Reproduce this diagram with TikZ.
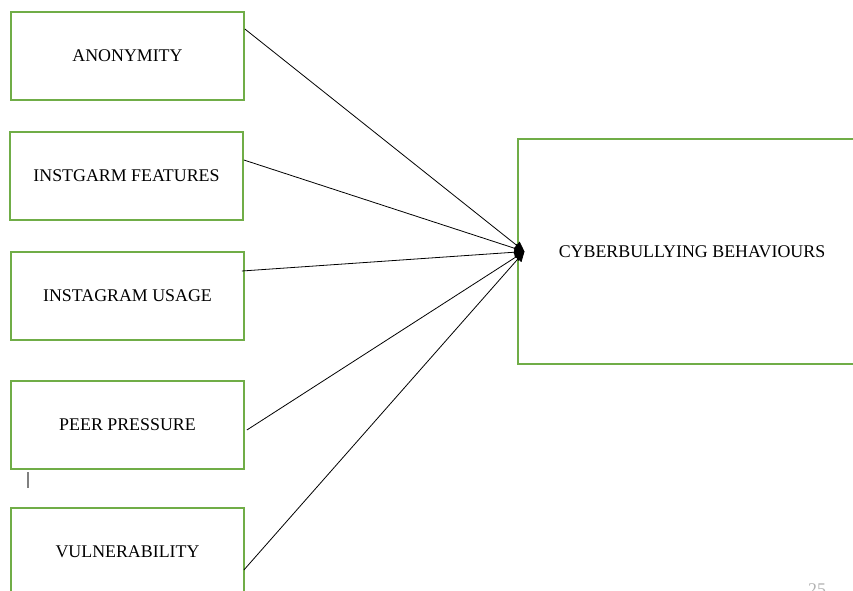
\documentclass[tikz,border=0pt]{standalone}
\usepackage{fontspec}
\setmainfont{Liberation Serif}
\usetikzlibrary{arrows.meta}
\definecolor{boxgreen}{RGB}{112,173,71}
\tikzset{
  labelfont/.style={font=\fontsize{13.4}{16}\selectfont, text depth=0pt},
  factor/.style={draw=boxgreen, line width=1.3pt, minimum width=174.75pt, minimum height=66pt, inner sep=0pt, labelfont},
  outcome/.style={draw=boxgreen, line width=1.3pt, minimum width=261pt, minimum height=168.75pt, inner sep=0pt, labelfont},
  link/.style={line width=0.6pt, -{Triangle[length=7.5pt,width=7pt]}}
}
\begin{document}
\begin{tikzpicture}[x=0.75pt,y=-0.75pt]
\useasboundingbox (0,0) rectangle (853,590);
\node[factor] (a) at (127.5,56) {ANONYMITY};
\node[factor] (b) at (126.5,176) {INSTGARM FEATURES};
\node[factor] (u) at (127.5,296) {INSTAGRAM USAGE};
\node[factor] (p) at (127.5,425) {PEER PRESSURE};
\node[factor] (v) at (127.5,552) {VULNERABILITY};
\node[outcome] (c) at (692,251.5) {CYBERBULLYING BEHAVIOURS};
\coordinate (tip) at ([xshift=5.5pt]c.west);
\draw[link] ([yshift=20.25pt]a.east) -- (tip);
\draw[link] ([yshift=12pt]b.east) -- (tip);
\draw[link] ([xshift=-2.25pt,yshift=18.75pt]u.east) -- (tip);
\draw[link] ([xshift=1.5pt,yshift=-3.75pt]p.east) -- (tip);
\draw[link] ([xshift=-0.75pt,yshift=-13.5pt]v.east) -- (tip);
\draw[gray, line width=0.8pt] (28,472) -- (28,488);
\node[text=gray!60, labelfont, anchor=north, inner sep=0pt] (pg) at (817,583) {25};
\end{tikzpicture}
\end{document}
